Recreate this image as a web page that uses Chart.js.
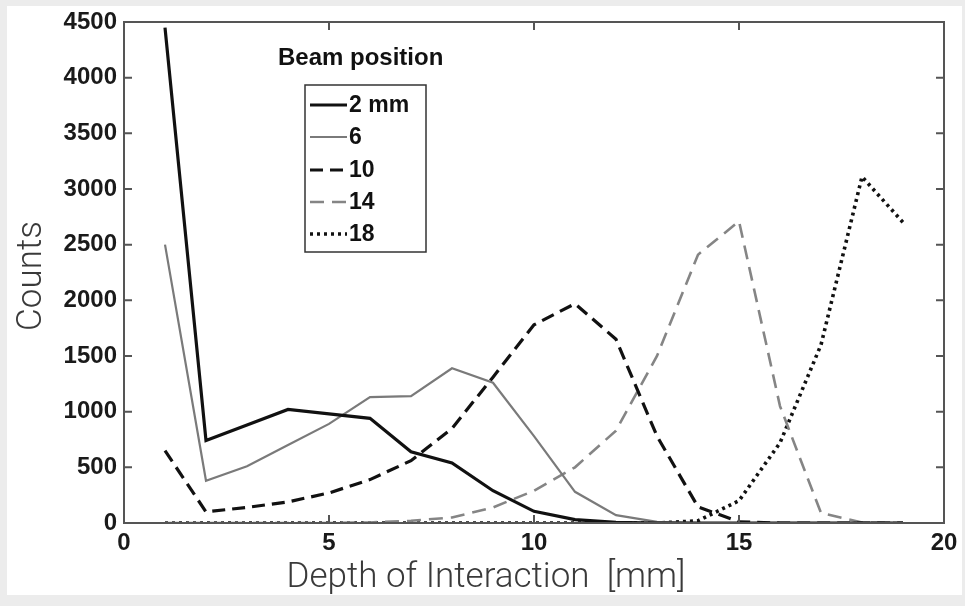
<!DOCTYPE html>
<html>
<head>
<meta charset="utf-8">
<script src="https://cdn.jsdelivr.net/npm/chart.js@4/dist/chart.umd.min.js"></script>
<style>
  html, body { margin: 0; padding: 0; background: #ececec; }
  #wrap { position: relative; width: 965px; height: 606px; }
</style>
</head>
<body>
<div id="wrap"><canvas id="doiChart" width="965" height="606"></canvas></div>
<script>
// --- Data ---
const depth = [1, 2, 3, 4, 5, 6, 7, 8, 9, 10, 11, 12, 13, 14, 15, 16, 17, 18, 19];
const beam2 = [4450, 740, 880, 1020, 980, 940, 640, 540, 290, 105, 30, 5, 0, 0, 0, 0, 0, 0, 0];
const beam6 = [2500, 380, 510, 700, 890, 1130, 1140, 1390, 1260, 780, 280, 70, 10, 0, 0, 0, 0, 0, 0];
const beam10 = [650, 100, 140, 190, 270, 390, 560, 850, 1310, 1780, 1970, 1650, 780, 145, 10, 0, 0, 0, 0];
const beam14 = [0, 0, 0, 0, 0, 5, 20, 50, 140, 290, 500, 830, 1500, 2410, 2710, 1050, 90, 5, 0];
const beam18 = [0, 0, 0, 0, 0, 0, 0, 0, 0, 0, 0, 0, 0, 20, 200, 720, 1600, 3110, 2700];
const legendLabels = ['2 mm', '6', '10', '14', '18'];
const xTicks = [0, 5, 10, 15, 20];
const yTicks = [0, 500, 1000, 1500, 2000, 2500, 3000, 3500, 4000, 4500];

const TICK_FONT = { family: '"Liberation Sans", Arial, sans-serif', size: 24, weight: 'bold' };

function series(label, values, color, width, dash) {
  return {
    label: label,
    data: depth.map((d, i) => ({ x: d, y: values[i] })),
    borderColor: color,
    borderWidth: width,
    borderDash: dash,
    pointRadius: 0,
    tension: 0,
    fill: false
  };
}

// --- Frame, inner ticks, legend and axis titles ---
const decor = {
  id: 'decor',
  beforeDraw(chart) {
    const ctx = chart.ctx;
    ctx.save();
    ctx.fillStyle = '#ececec';
    ctx.fillRect(0, 0, chart.width, chart.height);
    ctx.fillStyle = '#ffffff';
    ctx.fillRect(7, 6, 955, 589);
    ctx.restore();
  },
  afterDatasetsDraw(chart) {
    const ctx = chart.ctx;
    const a = chart.chartArea;
    const xs = chart.scales.x, ys = chart.scales.y;
    ctx.save();
    // box
    ctx.strokeStyle = '#555';
    ctx.lineWidth = 2;
    ctx.strokeRect(a.left, a.top, a.right - a.left, a.bottom - a.top);
    // inward ticks
    ctx.beginPath();
    yTicks.forEach(v => {
      const py = ys.getPixelForValue(v);
      ctx.moveTo(a.left, py); ctx.lineTo(a.left + 8, py);
      ctx.moveTo(a.right, py); ctx.lineTo(a.right - 8, py);
    });
    xTicks.forEach(v => {
      const px = xs.getPixelForValue(v);
      ctx.moveTo(px, a.bottom); ctx.lineTo(px, a.bottom - 8);
      ctx.moveTo(px, a.top); ctx.lineTo(px, a.top + 8);
    });
    ctx.stroke();

    // legend
    ctx.fillStyle = '#111';
    ctx.font = 'bold 24px "Liberation Sans", Arial, sans-serif';
    ctx.textBaseline = 'middle';
    ctx.textAlign = 'left';
    ctx.fillText('Beam position', 278, 58);
    ctx.strokeStyle = '#333';
    ctx.lineWidth = 1.5;
    ctx.strokeRect(305, 85, 121, 167);
    const rowY = [105, 137, 170, 202, 234];
    chart.data.datasets.forEach((ds, i) => {
      ctx.save();
      ctx.strokeStyle = ds.borderColor;
      ctx.lineWidth = ds.borderWidth;
      ctx.setLineDash(ds.borderDash || []);
      ctx.beginPath();
      ctx.moveTo(310, rowY[i]);
      ctx.lineTo(347, rowY[i]);
      ctx.stroke();
      ctx.restore();
      ctx.fillStyle = '#111';
      ctx.font = 'bold 23px "Liberation Sans", Arial, sans-serif';
      ctx.fillText(legendLabels[i], 349, rowY[i] + 1);
    });

    // axis titles
    ctx.fillStyle = '#3a3a3a';
    ctx.font = '300 35px Roboto, "Liberation Sans", sans-serif';
    ctx.textAlign = 'center';
    ctx.fillText('Depth of Interaction  [mm]', 486, 578);
    ctx.translate(32, 276);
    ctx.rotate(-Math.PI / 2);
    ctx.fillText('Counts', 0, 0);
    ctx.restore();
  }
};

const doiChart = new Chart(document.getElementById('doiChart'), {
  type: 'line',
  data: {
    datasets: [
      series(legendLabels[0], beam2, '#111111', 3.2, []),
      series(legendLabels[1], beam6, '#7a7a7a', 2.2, []),
      series(legendLabels[2], beam10, '#111111', 3.2, [13, 7]),
      series(legendLabels[3], beam14, '#858585', 2.6, [14, 8]),
      series(legendLabels[4], beam18, '#111111', 3.6, [3, 4])
    ]
  },
  options: {
    responsive: false,
    animation: false,
    layout: { padding: { left: 0, top: 22, right: 21, bottom: 0 } },
    plugins: { legend: { display: false }, tooltip: { enabled: false } },
    scales: {
      x: {
        type: 'linear',
        min: 0, max: 20,
        afterFit: s => { s.height = 83; },
        afterBuildTicks: s => { s.ticks = xTicks.map(v => ({ value: v })); },
        ticks: { font: TICK_FONT, color: '#1a1a1a', padding: -2, maxRotation: 0, callback: v => String(v) },
        grid: { display: false },
        border: { display: false }
      },
      y: {
        type: 'linear',
        min: 0, max: 4500,
        afterFit: s => { s.width = 124; },
        afterBuildTicks: s => { s.ticks = yTicks.map(v => ({ value: v })); },
        ticks: { font: TICK_FONT, color: '#1a1a1a', padding: -1, callback: v => String(v) },
        grid: { display: false },
        border: { display: false }
      }
    }
  },
  plugins: [decor]
});
</script>
</body>
</html>
